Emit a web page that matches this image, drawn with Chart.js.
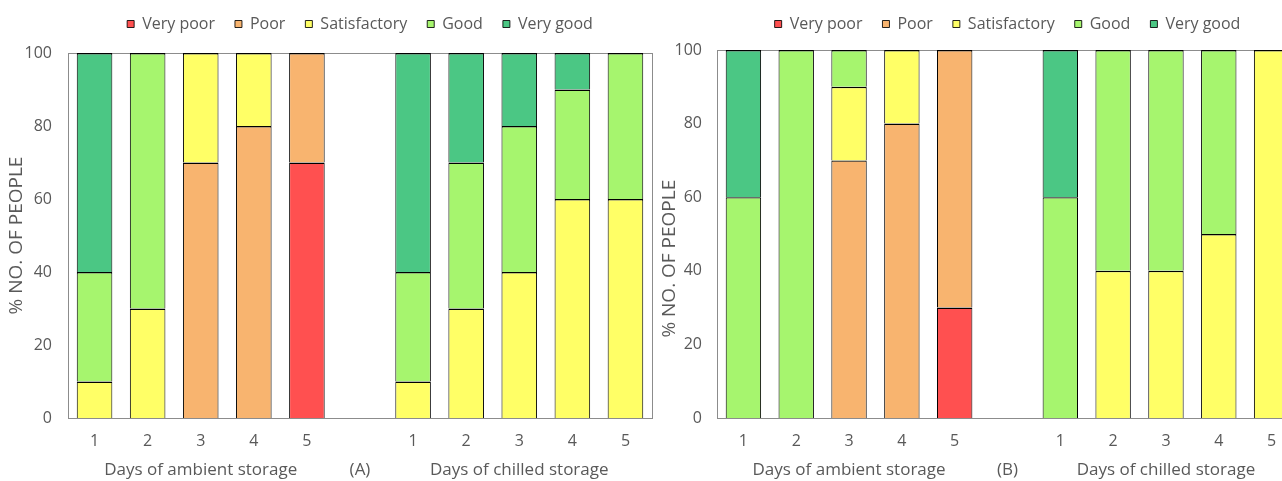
<!DOCTYPE html>
<html>
<head>
<meta charset="utf-8">
<script src="https://cdn.jsdelivr.net/npm/chart.js@4.4.8/dist/chart.umd.min.js"></script>
<style>
  html, body { margin: 0; padding: 0; background: #fff; overflow: hidden; width: 1282px; height: 481px; }
  .panel { position: absolute; top: 0; height: 481px; }
  #panelA { left: 0; width: 653px; }
  #panelB { left: 653px; width: 650px; }
</style>
</head>
<body>
<div class="panel" id="panelA"><canvas id="chartA"></canvas></div>
<div class="panel" id="panelB"><canvas id="chartB"></canvas></div>
<script>
// days 1-5 ambient, empty slot, days 1-5 chilled
const dayLabels = ["1", "2", "3", "4", "5", "", "1", "2", "3", "4", "5"];
const groupLabelsA = ["", "", "Days of ambient storage", "", "", "(A)", "", "", "Days of chilled storage", "", ""];
const groupLabelsB = ["", "", "Days of ambient storage", "", "", "(B)", "", "", "Days of chilled storage", "", ""];

const ratingNames = ["Very poor", "Poor", "Satisfactory", "Good", "Very good"];
const ratingColors = ["#ff5050", "#f8b46f", "#ffff66", "#a6f56e", "#4bc784"];

// panel A
const veryPoorA     = [0, 0, 0, 0, 70, null, 0, 0, 0, 0, 0];
const poorA         = [0, 0, 70, 80, 30, null, 0, 0, 0, 0, 0];
const satisfactoryA = [10, 30, 30, 20, 0, null, 10, 30, 40, 60, 60];
const goodA         = [30, 70, 0, 0, 0, null, 30, 40, 40, 30, 40];
const veryGoodA     = [60, 0, 0, 0, 0, null, 60, 30, 20, 10, 0];

// panel B
const veryPoorB     = [0, 0, 0, 0, 30, null, 0, 0, 0, 0, 0];
const poorB         = [0, 0, 70, 80, 70, null, 0, 0, 0, 0, 0];
const satisfactoryB = [0, 0, 20, 20, 0, null, 0, 40, 40, 50, 100];
const goodB         = [60, 100, 10, 0, 0, null, 60, 60, 60, 50, 0];
const veryGoodB     = [40, 0, 0, 0, 0, null, 40, 0, 0, 0, 0];

const yTicks = [0, 20, 40, 60, 80, 100];
const yTitle = "% NO. OF PEOPLE";

const textColor = "#595959";
const fontFamily = "'Open Sans', sans-serif";

const plotFrame = {
  id: "plotFrame",
  beforeDatasetsDraw(chart) {
    const { ctx, chartArea } = chart;
    ctx.save();
    ctx.strokeStyle = "#8c8c8c";
    ctx.lineWidth = 1;
    ctx.strokeRect(Math.round(chartArea.left) + 0.5, Math.round(chartArea.top) + 0.5,
      Math.round(chartArea.right - chartArea.left), Math.round(chartArea.bottom - chartArea.top));
    ctx.restore();
  }
};

function buildDatasets(series) {
  return series.map((values, i) => ({
    label: ratingNames[i],
    data: values.map(v => (v === 0 ? null : v)),
    backgroundColor: ratingColors[i],
    borderColor: "#000",
    borderWidth: { top: 1.4, left: 1, right: 1, bottom: 0 },
    borderSkipped: false,
    barPercentage: 0.67,
    categoryPercentage: 1
  }));
}

function makeChart(canvasId, series, groupLabels, cfg) {
  return new Chart(document.getElementById(canvasId), {
    type: "bar",
    data: { labels: dayLabels, datasets: buildDatasets(series) },
    plugins: [plotFrame],
    options: {
      responsive: true,
      maintainAspectRatio: false,
      animation: false,
      layout: { padding: { top: -4, right: cfg.padRight, left: 0, bottom: 0 } },
      plugins: {
        tooltip: { enabled: false },
        legend: {
          position: "top",
          fullSize: false,
          labels: {
            boxWidth: 7,
            boxHeight: 7,
            padding: 20,
            color: textColor,
            font: { family: fontFamily, size: 16 }
          }
        }
      },
      scales: {
        x: {
          stacked: true,
          grid: { display: false, drawTicks: false },
          border: { display: false },
          ticks: { color: textColor, font: { family: fontFamily, size: 16 }, padding: 14, autoSkip: false, maxRotation: 0 },
          afterFit: s => { s.height = 34; }
        },
        xGroup: {
          type: "category",
          position: "bottom",
          labels: groupLabels,
          grid: { display: false, drawTicks: false },
          border: { display: false },
          ticks: { color: textColor, font: { family: fontFamily, size: 17 }, padding: 8, autoSkip: false, maxRotation: 0 },
          afterFit: s => { s.height = 29; }
        },
        xTop: {
          type: "category",
          position: "top",
          grid: { display: false, drawTicks: false },
          border: { display: false },
          ticks: { display: false },
          afterFit: s => { s.height = cfg.topGap; }
        },
        y: {
          stacked: true,
          min: 0,
          max: 100,
          afterBuildTicks: s => { s.ticks = yTicks.map(v => ({ value: v })); },
          grid: { display: false, drawTicks: false },
          border: { display: false },
          ticks: { color: textColor, font: { family: fontFamily, size: 16 }, padding: cfg.tickPad },
          title: {
            display: true,
            // trailing spaces push panel B's title down a little, as in the original
            text: yTitle + " ".repeat(cfg.titleShift),
            color: textColor,
            font: { family: fontFamily, size: 19 },
            padding: { top: 5, bottom: 0 }
          },
          afterFit: s => { s.width = cfg.yWidth; }
        }
      }
    }
  });
}

makeChart("chartA", [veryPoorA, poorA, satisfactoryA, goodA, veryGoodA], groupLabelsA,
  { padRight: 1, topGap: 11, yWidth: 68, tickPad: 16, titleShift: 0 });
makeChart("chartB", [veryPoorB, poorB, satisfactoryB, goodB, veryGoodB], groupLabelsB,
  { padRight: 5, topGap: 8, yWidth: 64, tickPad: 15, titleShift: 10 });
</script>
</body>
</html>
